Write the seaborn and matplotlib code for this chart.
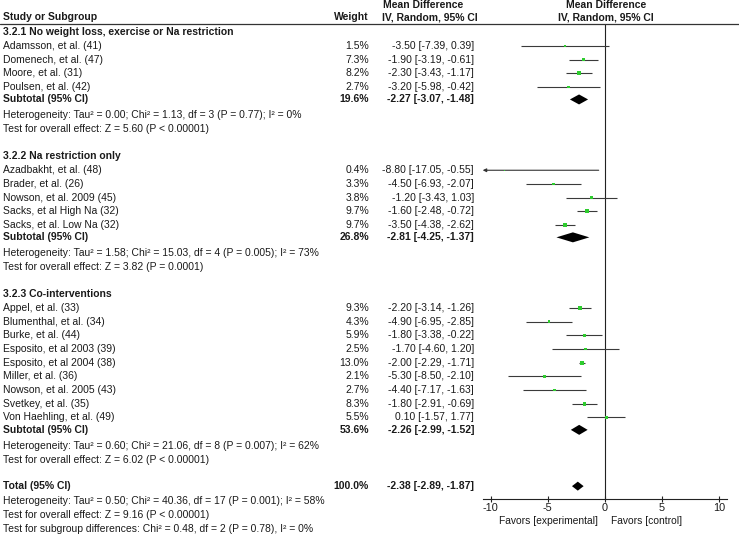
import numpy as np
import matplotlib
matplotlib.use("Agg")
import matplotlib.pyplot as plt
import seaborn as sns

# ---------------- data ----------------
group_titles = ["3.2.1 No weight loss, exercise or Na restriction",
                "3.2.2 Na restriction only",
                "3.2.3 Co-interventions"]

g1_names = ["Adamsson, et al. (41)", "Domenech, et al. (47)", "Moore, et al. (31)", "Poulsen, et al. (42)"]
g1_weight = [1.5, 7.3, 8.2, 2.7]
g1_md = [-3.50, -1.90, -2.30, -3.20]
g1_lo = [-7.39, -3.19, -3.43, -5.98]
g1_hi = [0.39, -0.61, -1.17, -0.42]

g2_names = ["Azadbakht, et al. (48)", "Brader, et al. (26)", "Nowson, et al. 2009 (45)",
            "Sacks, et al High Na (32)", "Sacks, et al. Low Na (32)"]
g2_weight = [0.4, 3.3, 3.8, 9.7, 9.7]
g2_md = [-8.80, -4.50, -1.20, -1.60, -3.50]
g2_lo = [-17.05, -6.93, -3.43, -2.48, -4.38]
g2_hi = [-0.55, -2.07, 1.03, -0.72, -2.62]

g3_names = ["Appel, et al. (33)", "Blumenthal, et al. (34)", "Burke, et al. (44)",
            "Esposito, et al 2003 (39)", "Esposito, et al 2004 (38)", "Miller, et al. (36)",
            "Nowson, et al. 2005 (43)", "Svetkey, et al. (35)", "Von Haehling, et al. (49)"]
g3_weight = [9.3, 4.3, 5.9, 2.5, 13.0, 2.1, 2.7, 8.3, 5.5]
g3_md = [-2.20, -4.90, -1.80, -1.70, -2.00, -5.30, -4.40, -1.80, 0.10]
g3_lo = [-3.14, -6.95, -3.38, -4.60, -2.29, -8.50, -7.17, -2.91, -1.57]
g3_hi = [-1.26, -2.85, -0.22, 1.20, -1.71, -2.10, -1.63, -0.69, 1.77]

sub_weight = [19.6, 26.8, 53.6]
sub_md = [-2.27, -2.81, -2.26]
sub_lo = [-3.07, -4.25, -2.99]
sub_hi = [-1.48, -1.37, -1.52]

sub_het = ["Heterogeneity: Tau² = 0.00; Chi² = 1.13, df = 3 (P = 0.77); I² = 0%",
           "Heterogeneity: Tau² = 1.58; Chi² = 15.03, df = 4 (P = 0.005); I² = 73%",
           "Heterogeneity: Tau² = 0.60; Chi² = 21.06, df = 8 (P = 0.007); I² = 62%"]
sub_test = ["Test for overall effect: Z = 5.60 (P < 0.00001)",
            "Test for overall effect: Z = 3.82 (P = 0.0001)",
            "Test for overall effect: Z = 6.02 (P < 0.00001)"]

total_weight = 100.0
total_md = -2.38
total_lo = -2.89
total_hi = -1.87
total_notes = ["Heterogeneity: Tau² = 0.50; Chi² = 40.36, df = 17 (P = 0.001); I² = 58%",
               "Test for overall effect: Z = 9.16 (P < 0.00001)",
               "Test for subgroup differences: Chi² = 0.48, df = 2 (P = 0.78), I² = 0%"]

x_ticks = [-10, -5, 0, 5, 10]
favors_left = "Favors [experimental]"
favors_right = "Favors [control]"

groups = [
    (g1_names, g1_weight, g1_md, g1_lo, g1_hi),
    (g2_names, g2_weight, g2_md, g2_lo, g2_hi),
    (g3_names, g3_weight, g3_md, g3_lo, g3_hi),
]

# ---------------- style ----------------
sns.set_theme(style="white")
plt.rcParams["font.family"] = ["Liberation Sans", "DejaVu Sans"]
FS = 7.5
TXT = "#1a1a1a"
GREEN = "#2ecc2e"

W, H = 739, 535
fig = plt.figure(figsize=(W / 100, H / 100), dpi=100)

# forest axes: pixel x = 605 + 11.43 * value ; y data == pixel row
scale = 11.43
x0px = 605
xmin, xmax = -10.7, 10.7
left_px = x0px + scale * xmin
right_px = x0px + scale * xmax
ax = fig.add_axes([left_px / W, 0, (right_px - left_px) / W, 1])
ax.set_xlim(xmin, xmax)
ax.set_ylim(H, 0)
ax.patch.set_alpha(0)


def T(xpx, ypx, s, ha="left", bold=False, size=FS):
    fig.text(xpx / W, 1 - ypx / H, s, ha=ha, va="center", fontsize=size,
             fontweight="bold" if bold else "normal", color=TXT)


# ---------------- layout ----------------
COL_NAME, COL_W, COL_CI = 3, 369, 474
study_step = 13.65

T(383, 5, "Mean Difference", bold=True)
T(382, 17.5, "IV, Random, 95% CI", bold=True)
T(3, 17.5, "Study or Subgroup", bold=True)
T(369, 17.5, "Weight", ha="right", bold=True)
T(606, 5, "Mean Difference", ha="center", bold=True)
T(606, 17.5, "IV, Random, 95% CI", ha="center", bold=True)
fig.add_artist(plt.Line2D([0, 1], [1 - 24 / H, 1 - 24 / H], color="#333333", lw=0.9))

ys, mds, los, his, wts = [], [], [], [], []
diamonds = []
y = 32
for gi, (names, wt, md, lo, hi) in enumerate(groups):
    T(COL_NAME, y, group_titles[gi], bold=True)
    y += 14
    for n, w, m, l, h in zip(names, wt, md, lo, hi):
        T(COL_NAME, y, n)
        T(COL_W, y, f"{w:.1f}%", ha="right")
        T(COL_CI, y, f"{m:.2f} [{l:.2f}, {h:.2f}]", ha="right")
        ys.append(y); mds.append(m); los.append(l); his.append(h); wts.append(w)
        y += study_step
    y -= study_step
    y += 12.5
    T(COL_NAME, y, "Subtotal (95% CI)", bold=True)
    T(COL_W, y, f"{sub_weight[gi]:.1f}%", ha="right", bold=True)
    T(COL_CI, y, f"{sub_md[gi]:.2f} [{sub_lo[gi]:.2f}, {sub_hi[gi]:.2f}]", ha="right", bold=True)
    diamonds.append((y, sub_md[gi], sub_lo[gi], sub_hi[gi], 5))
    y += 16
    T(COL_NAME, y, sub_het[gi])
    y += 13.8
    T(COL_NAME, y, sub_test[gi])
    y += 27

y -= 0.5
T(COL_NAME, y, "Total (95% CI)", bold=True)
T(COL_W, y, f"{total_weight:.1f}%", ha="right", bold=True)
T(COL_CI, y, f"{total_md:.2f} [{total_lo:.2f}, {total_hi:.2f}]", ha="right", bold=True)
diamonds.append((y, total_md, total_lo, total_hi, 4.5))
y += 15
for note in total_notes:
    T(COL_NAME, y, note)
    y += 13.7

# ---------------- marks ----------------
axis_y = 499
ax.vlines(0, 24, axis_y, color="#222222", lw=0.8, zorder=1)

for yy, l, h in zip(ys, los, his):
    if l < xmin:
        ax.annotate("", xy=(xmin, yy), xytext=(h, yy),
                    arrowprops=dict(arrowstyle="-|>", color="#333333", lw=0.8,
                                    mutation_scale=5, shrinkA=0, shrinkB=0))
    else:
        ax.hlines(yy, l, h, color="#3a3a3a", lw=0.8, zorder=2)

side_px = [1.0 * np.sqrt(w) + 0.8 for w in wts]
sizes = [(s * 0.72) ** 2 for s in side_px]
sns.scatterplot(x=mds, y=ys, s=sizes, marker="s", color=GREEN, edgecolor="none",
                linewidth=0, ax=ax, zorder=3, legend=False)

for yy, m, l, h, hh in diamonds:
    ax.fill([l, m, h, m], [yy, yy - hh, yy, yy + hh], color="black", lw=0, zorder=3)

# axis
ax.set_yticks([])
for sp in ["top", "left", "right"]:
    ax.spines[sp].set_visible(False)
ax.spines["bottom"].set_position(("data", axis_y))
ax.spines["bottom"].set_color("#222222")
ax.spines["bottom"].set_linewidth(0.8)
ax.set_xticks(x_ticks)
ax.set_xticklabels([str(t) for t in x_ticks])
ax.tick_params(axis="x", direction="inout", length=5, width=0.8, pad=0.5,
               colors="#222222", labelcolor=TXT, labelsize=7.8, bottom=True)
ax.set_xlabel("")
ax.set_ylabel("")
ax.grid(False)

T(598, 521, favors_left, ha="right", size=7.4)
T(611, 521, favors_right, ha="left", size=7.4)

fig.savefig("out.png", dpi=100, facecolor="white")
